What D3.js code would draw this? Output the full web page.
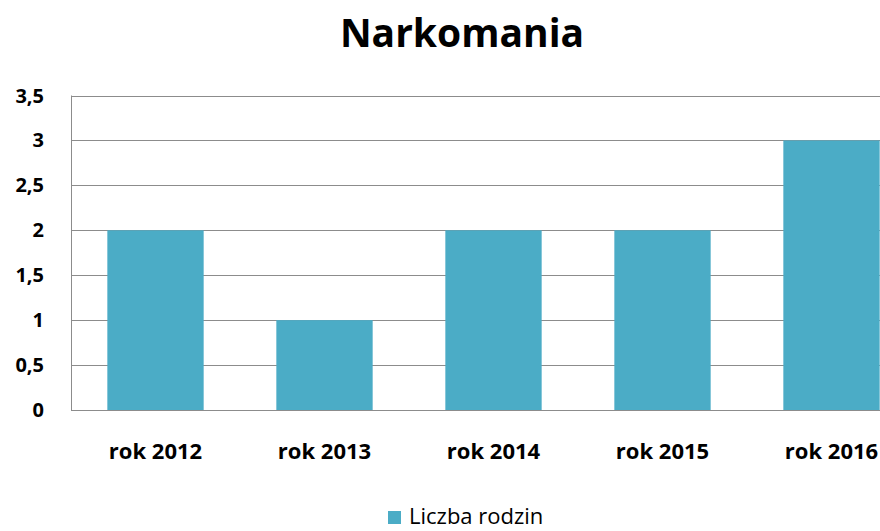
<!DOCTYPE html>
<html>
<head>
<meta charset="utf-8">
<script src="https://cdn.jsdelivr.net/npm/d3@7"></script>
<style>
  body { margin: 0; background: #fff; }
  svg { display: block; }
</style>
</head>
<body>
<script>
// data
var years = ["rok 2012", "rok 2013", "rok 2014", "rok 2015", "rok 2016"];
var rodziny = [2, 1, 2, 2, 3];
var yTicks = [0, 0.5, 1, 1.5, 2, 2.5, 3, 3.5];
var tytul = "Narkomania";
var seria = "Liczba rodzin";

var width = 880, height = 531;
var fontFam = "'Open Sans', sans-serif";
var barColor = "#4bacc6";
var gridColor = "#8c8c8c";

var plotLeft = 71, plotRight = 916, plotTop = 95.5, plotBottom = 410;

var svg = d3.select("body").append("svg")
  .attr("width", width)
  .attr("height", height);

var x = d3.scaleBand()
  .domain(years)
  .range([plotLeft, plotRight])
  .paddingInner(0.43)
  .paddingOuter(0.215);

var y = d3.scaleLinear()
  .domain([0, 3.5])
  .range([plotBottom, plotTop]);

// gridlines
svg.append("g")
  .selectAll("line")
  .data(yTicks.filter(function(t){ return t > 0; }))
  .enter()
  .append("line")
  .attr("x1", plotLeft)
  .attr("x2", plotRight)
  .attr("y1", function(d){ return Math.round(y(d)) + 0.5; })
  .attr("y2", function(d){ return Math.round(y(d)) + 0.5; })
  .style("stroke", gridColor)
  .style("stroke-width", 1);

// bars
svg.append("g")
  .selectAll("rect")
  .data(rodziny)
  .enter()
  .append("rect")
  .attr("x", function(d, i){ return x(years[i]); })
  .attr("y", function(d){ return y(d); })
  .attr("width", x.bandwidth())
  .attr("height", function(d){ return y(0) - y(d); })
  .style("fill", barColor);

// axis lines
svg.append("line")
  .attr("x1", plotLeft + 0.5).attr("x2", plotLeft + 0.5)
  .attr("y1", plotTop).attr("y2", plotBottom)
  .style("stroke", gridColor);
svg.append("line")
  .attr("x1", plotLeft).attr("x2", plotRight)
  .attr("y1", plotBottom + 0.5).attr("y2", plotBottom + 0.5)
  .style("stroke", gridColor);

// y labels
var fmt = function(v){ return String(v).replace(".", ","); };
svg.append("g")
  .selectAll("text")
  .data(yTicks)
  .enter()
  .append("text")
  .attr("x", 44)
  .attr("y", function(d){ return y(d) + 7; })
  .attr("text-anchor", "end")
  .attr("font-family", fontFam)
  .attr("font-weight", "700")
  .attr("font-size", "20px")
  .attr("fill", "#000")
  .text(fmt);

// x labels
svg.append("g")
  .selectAll("text")
  .data(years)
  .enter()
  .append("text")
  .attr("x", function(d){ return x(d) + x.bandwidth() / 2; })
  .attr("y", 459)
  .attr("text-anchor", "middle")
  .attr("font-family", fontFam)
  .attr("font-weight", "700")
  .attr("font-size", "22px")
  .attr("fill", "#000")
  .text(function(d){ return d; });

// title
svg.append("text")
  .attr("x", 462)
  .attr("y", 47)
  .attr("text-anchor", "middle")
  .attr("font-family", fontFam)
  .attr("font-weight", "700")
  .attr("font-size", "39px")
  .attr("fill", "#000")
  .text(tytul);

// legend
svg.append("rect")
  .attr("x", 388)
  .attr("y", 511)
  .attr("width", 13)
  .attr("height", 13)
  .style("fill", barColor);
svg.append("text")
  .attr("x", 409)
  .attr("y", 524)
  .attr("font-family", fontFam)
  .attr("font-size", "22px")
  .attr("fill", "#000")
  .text(seria);
</script>
</body>
</html>
